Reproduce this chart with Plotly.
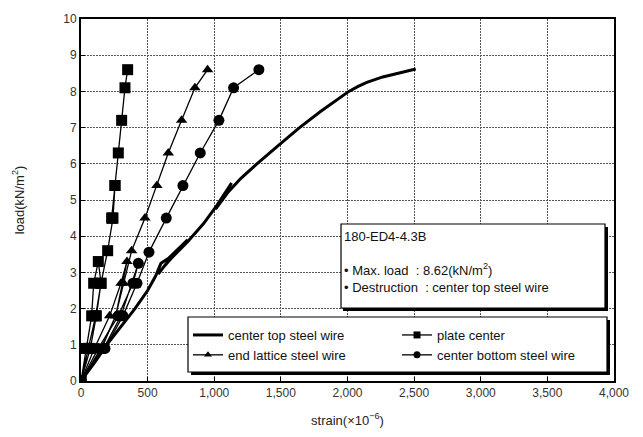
import plotly.graph_objects as go

# ---- data (strain x10^-6, load kN/m2) ----
top_strain = [0, 100, 193, 300, 405, 500, 560, 600, 660, 800, 700, 620, 580, 640, 800, 920, 1020, 1130,
              1060, 1010, 1100, 1200, 1320, 1480, 1640, 1800, 1930, 2010, 2080, 2145, 2265, 2390, 2512]
top_load = [0, 0.5, 1.0, 1.5, 2.0, 2.5, 2.9, 3.25, 3.4, 3.9, 3.5, 3.15, 2.95, 3.25, 3.85, 4.35, 4.85, 5.47,
            5.05, 4.75, 5.2, 5.6, 6.0, 6.5, 7.0, 7.45, 7.8, 8.0, 8.14, 8.25, 8.4, 8.52, 8.62]

plate_strain = [0, 40, 80, 95, 130, 150, 115, 70, 0, 55, 110, 150, 200, 240, 255, 235, 230, 255, 280, 305, 330, 350]
plate_load = [0, 0.9, 1.8, 2.7, 3.3, 2.7, 1.8, 0.9, 0, 0.9, 1.8, 2.7, 3.6, 4.5, 5.4, 4.5, 4.5, 5.4, 6.3, 7.2, 8.1, 8.6]

lattice_strain = [0, 100, 215, 300, 345, 260, 150, 0, 155, 260, 320, 380, 480, 570, 655, 755, 855, 950]
lattice_load = [0, 0.9, 1.8, 2.7, 3.3, 1.8, 0.9, 0, 0.9, 1.8, 2.7, 3.6, 4.5, 5.4, 6.3, 7.2, 8.1, 8.6]

bottom_strain = [0, 130, 280, 390, 430, 300, 170, 0, 180, 315, 420, 510, 640, 765, 895, 1035, 1145, 1335]
bottom_load = [0, 0.9, 1.8, 2.7, 3.25, 1.8, 0.9, 0, 0.9, 1.8, 2.7, 3.56, 4.5, 5.4, 6.3, 7.2, 8.1, 8.6]

names = ["center top steel wire", "plate center", "end lattice steel wire", "center bottom steel wire"]
x_ticks = [0, 500, 1000, 1500, 2000, 2500, 3000, 3500, 4000]
y_ticks = list(range(0, 11))

W, H = 643, 437
L, R, T, B = 81, 29, 19, 56
PW, PH = W - L - R, H - T - B


def px(x):
    return (x - L) / PW


def py(y):
    return (H - B - y) / PH


FONT = "Liberation Sans"
fig = go.Figure()

fig.add_trace(go.Scatter(x=top_strain, y=top_load, mode="lines",
                         line=dict(color="black", width=3), showlegend=False))
fig.add_trace(go.Scatter(x=plate_strain, y=plate_load, mode="lines+markers",
                         line=dict(color="black", width=1.3),
                         marker=dict(symbol="square", size=11, color="black"), showlegend=False))
fig.add_trace(go.Scatter(x=lattice_strain, y=lattice_load, mode="lines+markers",
                         line=dict(color="black", width=1.3),
                         marker=dict(symbol="triangle-up", size=10, color="black"), showlegend=False))
fig.add_trace(go.Scatter(x=bottom_strain, y=bottom_load, mode="lines+markers",
                         line=dict(color="black", width=1.3),
                         marker=dict(symbol="circle", size=11, color="black"), showlegend=False))

# legend entries
fig.add_trace(go.Scatter(x=[None], y=[None], mode="lines", name=names[0],
                         line=dict(color="black", width=3)))
fig.add_trace(go.Scatter(x=[None], y=[None], mode="lines+markers", name=names[1],
                         line=dict(color="black", width=1.3),
                         marker=dict(symbol="square", size=7, color="black")))
fig.add_trace(go.Scatter(x=[None], y=[None], mode="lines+markers", name=names[2],
                         line=dict(color="black", width=1.3),
                         marker=dict(symbol="triangle-up", size=7, color="black")))
fig.add_trace(go.Scatter(x=[None], y=[None], mode="lines+markers", name=names[3],
                         line=dict(color="black", width=1.3),
                         marker=dict(symbol="circle", size=7, color="black")))

shapes = []
# legend box (shadow + box)
shapes.append(dict(type="rect", xref="paper", yref="paper", x0=px(191), x1=px(610), y0=py(375), y1=py(320),
                   fillcolor="black", line=dict(width=0), layer="above"))
shapes.append(dict(type="rect", xref="paper", yref="paper", x0=px(188), x1=px(607), y0=py(372), y1=py(317),
                   fillcolor="white", line=dict(color="black", width=1.2), layer="above"))
# info box
shapes.append(dict(type="rect", xref="paper", yref="paper", x0=px(343), x1=px(608), y0=py(311), y1=py(227),
                   fillcolor="black", line=dict(width=0), layer="above"))
shapes.append(dict(type="rect", xref="paper", yref="paper", x0=px(341), x1=px(605), y0=py(308), y1=py(224),
                   fillcolor="white", line=dict(color="black", width=1.2), layer="above"))

fig.add_annotation(xref="paper", yref="paper", x=px(342), y=py(227), xanchor="left", yanchor="top",
                   align="left", showarrow=False,
                   text="180-ED4-4.3B<br><br>• Max. load  : 8.62(kN/m<sup>2</sup>)<br>• Destruction  : center top steel wire",
                   font=dict(family=FONT, size=13, color="#111"))

axis_common = dict(showline=True, linecolor="black", linewidth=2, mirror=True,
                   showgrid=True, gridcolor="#555", gridwidth=1, griddash="2px,1px",
                   ticks="inside", ticklen=4, tickcolor="black", zeroline=False,
                   tickfont=dict(family=FONT, size=12, color="#333"))

fig.update_layout(
    width=W, height=H,
    margin=dict(l=L, r=R, t=T, b=B),
    paper_bgcolor="white", plot_bgcolor="white",
    xaxis=dict(range=[0, 4000], tickvals=x_ticks, tickformat=",",
               title=dict(text="strain(×10<sup>−6</sup>)", font=dict(family=FONT, size=13, color="#222"), standoff=16),
               **axis_common),
    yaxis=dict(range=[0, 10], tickvals=y_ticks,
               title=dict(text="load(kN/m<sup>2</sup>)", font=dict(family=FONT, size=13, color="#222"), standoff=36),
               **axis_common),
    shapes=shapes,
    legend=dict(orientation="h", x=px(188), y=py(320), xanchor="left", yanchor="top",
                bgcolor="rgba(0,0,0,0)", borderwidth=0, entrywidth=164, entrywidthmode="pixels",
                font=dict(family=FONT, size=13, color="#111"), traceorder="normal"),
)

fig.write_html("out.html")
